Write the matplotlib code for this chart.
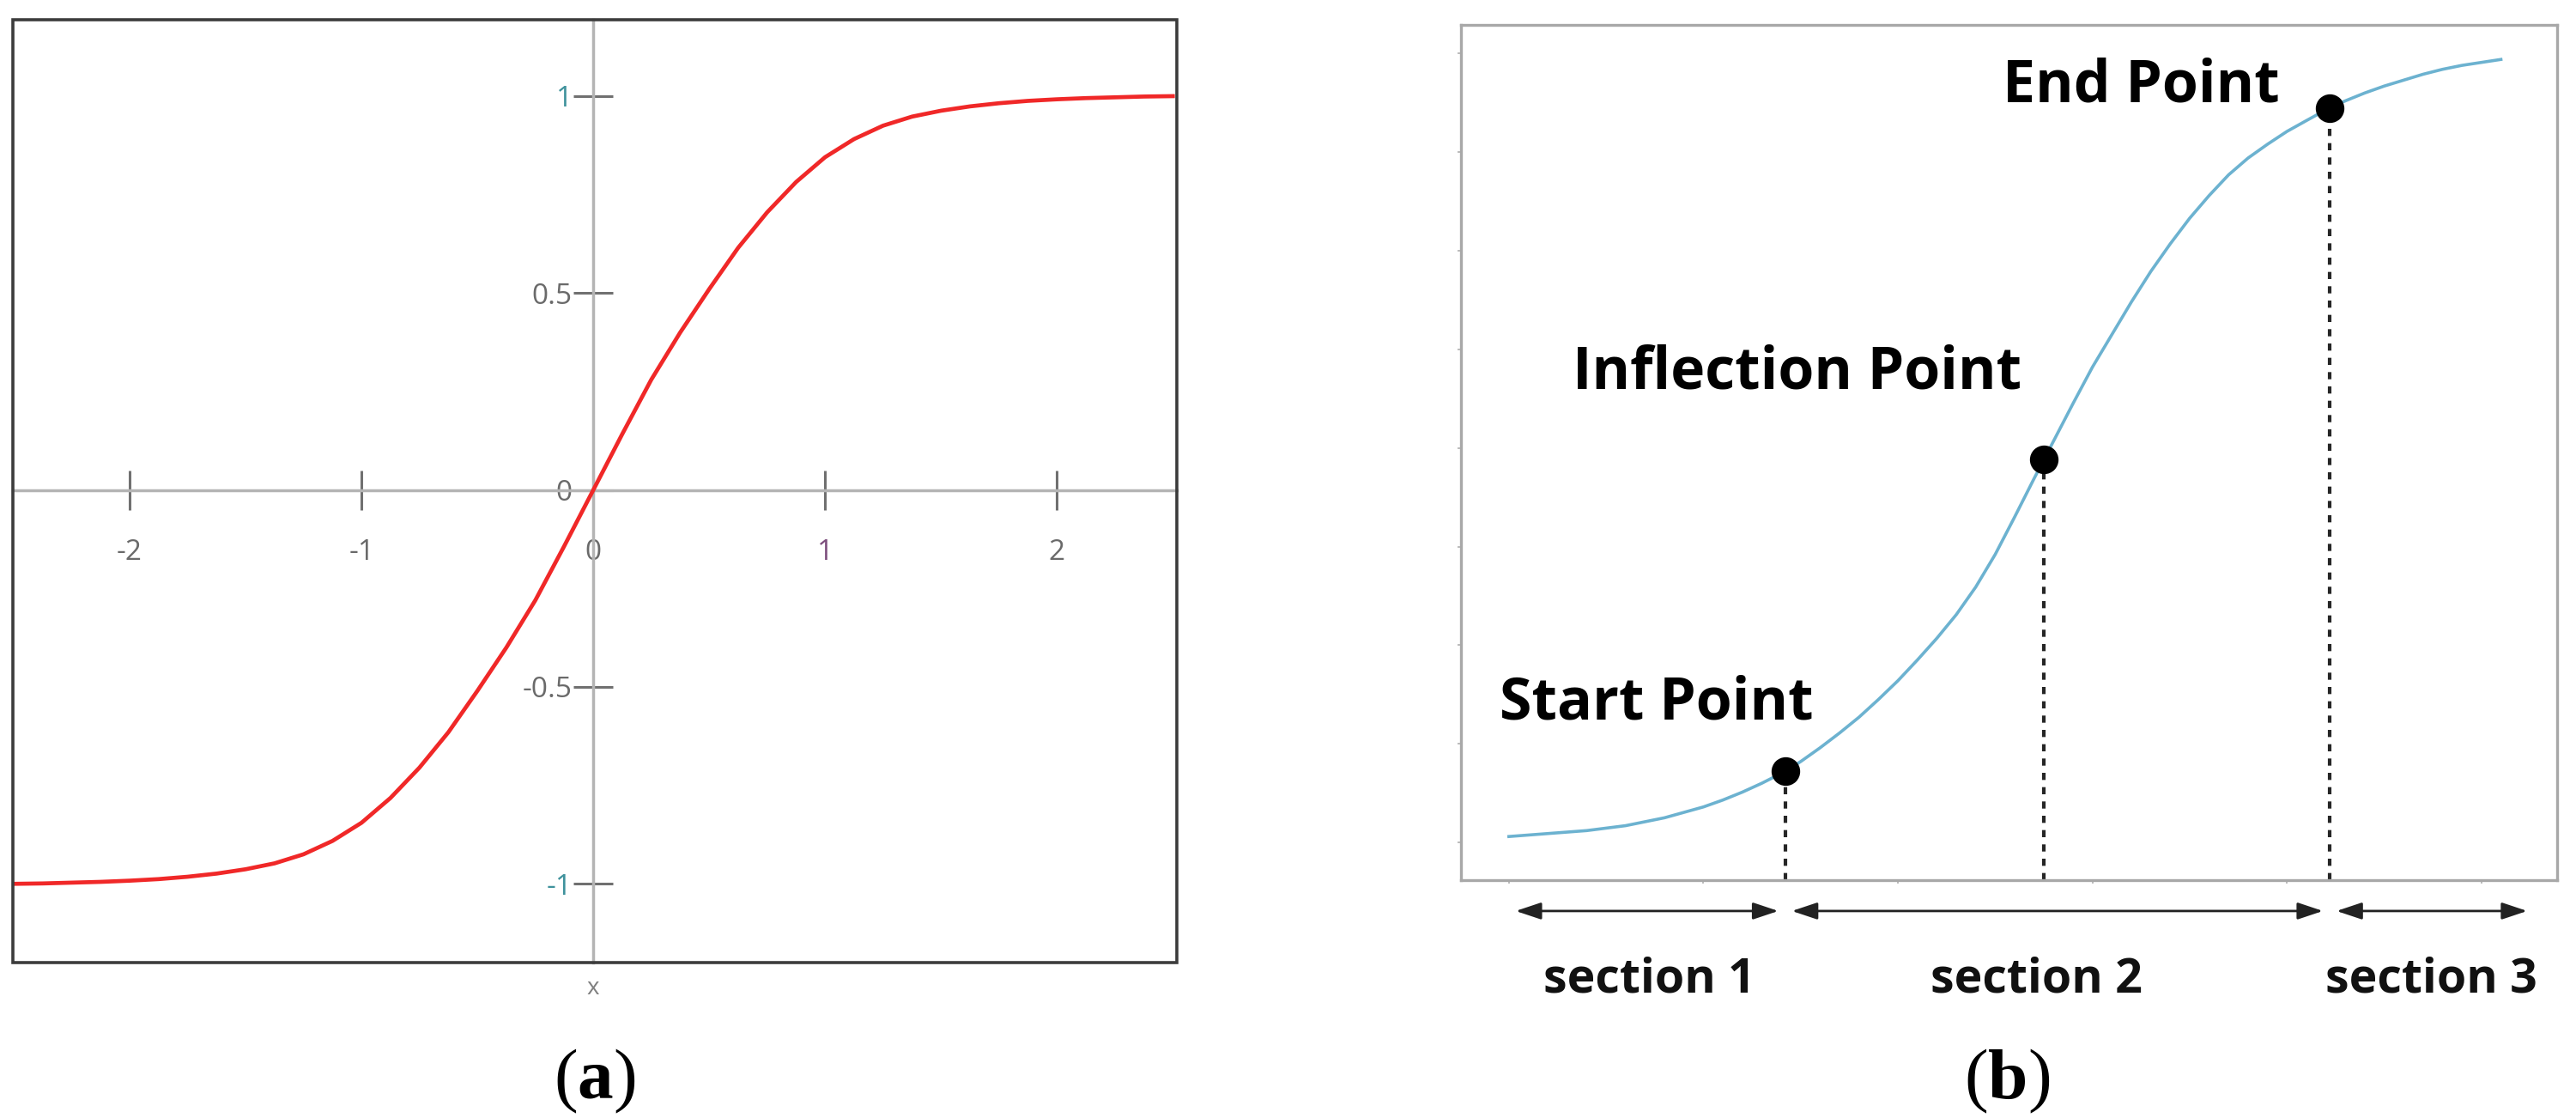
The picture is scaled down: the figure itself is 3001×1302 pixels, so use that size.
import matplotlib.pyplot as plt
from matplotlib.patches import Rectangle

plt.rcParams['axes.unicode_minus'] = False
plt.rcParams['mathtext.fontset'] = 'custom'
plt.rcParams['mathtext.rm'] = 'Liberation Serif'
plt.rcParams['mathtext.bf'] = 'Liberation Serif:bold'

# ---- panel (a): S-shaped curve through the origin
a_x = [-2.5, -2.375, -2.25, -2.125, -2.0, -1.875, -1.75, -1.625, -1.5, -1.375,
       -1.25, -1.125, -1.0, -0.875, -0.75, -0.625, -0.5, -0.375, -0.25, -0.125,
       0.0, 0.125, 0.25, 0.375, 0.5, 0.625, 0.75, 0.875, 1.0, 1.125,
       1.25, 1.375, 1.5, 1.625, 1.75, 1.875, 2.0, 2.125, 2.25, 2.375, 2.5]
a_y = [-1.0, -0.999, -0.997, -0.995, -0.992, -0.988, -0.982, -0.974, -0.963, -0.948,
       -0.925, -0.891, -0.845, -0.782, -0.705, -0.615, -0.51, -0.40, -0.28, -0.142,
       0.0, 0.142, 0.28, 0.40, 0.51, 0.615, 0.705, 0.782, 0.845, 0.891,
       0.925, 0.948, 0.963, 0.974, 0.982, 0.988, 0.992, 0.995, 0.997, 0.999, 1.0]
a_xticks = [-2, -1, 0, 1, 2]
a_xlabels = ['-2', '-1', '0', '1', '2']
a_yticks = [-1, -0.5, 0, 0.5, 1]
a_ylabels = ['-1', '-0.5', '0', '0.5', '1']

# ---- panel (b): growth curve with three marked points
b_x = [0.0, 0.2, 0.4, 0.6, 0.8, 1.0, 1.1, 1.2, 1.3, 1.42,
       1.5, 1.6, 1.7, 1.8, 1.9, 2.0, 2.1, 2.2, 2.3, 2.4,
       2.5, 2.6, 2.7, 2.75, 2.8, 2.9, 3.0, 3.1, 3.2, 3.3,
       3.4, 3.5, 3.6, 3.7, 3.8, 3.9, 4.0, 4.1, 4.22, 4.3,
       4.4, 4.5, 4.6, 4.7, 4.8, 4.9, 5.0, 5.1]
b_y = [0.06, 0.09, 0.12, 0.17, 0.25, 0.36, 0.43, 0.51, 0.60, 0.72,
       0.82, 0.96, 1.11, 1.27, 1.45, 1.64, 1.85, 2.07, 2.31, 2.59,
       2.92, 3.30, 3.69, 3.88, 4.07, 4.45, 4.82, 5.15, 5.48, 5.79,
       6.07, 6.33, 6.56, 6.77, 6.94, 7.08, 7.21, 7.32, 7.45, 7.52,
       7.60, 7.67, 7.73, 7.79, 7.84, 7.88, 7.91, 7.94]
point_names = ['Start Point', 'Inflection Point', 'End Point']
point_x = [1.42, 2.75, 4.22]
point_y = [0.72, 3.88, 7.45]
section_names = ['section 1', 'section 2', 'section 3']
section_edges = [0.0, 1.42, 4.22, 5.27]

fig = plt.figure(figsize=(30.01, 13.02), dpi=100)

# ================= (a)
axa = fig.add_axes([0.0049, 0.139, 0.452, 0.8437])
axa.plot(a_x, a_y, color='#f02828', lw=3.4, zorder=3)
axa.set_xlim(-2.505, 2.518)
axa.set_ylim(-1.2, 1.195)
for side in ['top', 'right']:
    axa.spines[side].set_visible(False)
for side in ['left', 'bottom']:
    axa.spines[side].set_position('zero')
    axa.spines[side].set_color('#b4b4b4')
    axa.spines[side].set_linewidth(2.5)
axa.add_patch(Rectangle((0, 0), 1, 1, transform=axa.transAxes, fill=False,
                        ec='#3c3c3c', lw=2.6, clip_on=False, zorder=4))
axa.set_xticks(a_xticks)
axa.set_xticklabels(a_xlabels)
axa.set_yticks(a_yticks)
axa.set_yticklabels(a_ylabels)
axa.tick_params(axis='both', direction='inout', length=33, width=2.2,
                color='#707070', labelsize=24, labelcolor='#6a6a6a')
axa.tick_params(axis='x', pad=24)
axa.tick_params(axis='y', pad=1)
for lab in axa.get_xticklabels() + axa.get_yticklabels():
    lab.set_family('Open Sans')
axa.get_xticklabels()[3].set_color('#7d4f7d')
axa.get_yticklabels()[0].set_color('#3f929c')
axa.get_yticklabels()[4].set_color('#3f929c')
axa.annotate('x', xy=(0, -0.027), xycoords=('data', 'axes fraction'),
             ha='center', va='center', fontsize=20, color='#808080',
             family='Open Sans', annotation_clip=False)

# ================= (b)
axb = fig.add_axes([0.5671, 0.2127, 0.4255, 0.765])
bottom = -0.383
axb.set_xlim(-0.247, 5.388)
axb.set_ylim(bottom, 8.29)
axb.plot(b_x, b_y, color='#6cb2d0', lw=2.6, zorder=3)
axb.vlines(point_x, bottom, point_y, colors='#262626', linestyles=(0, (2.0, 2.0)),
           lw=3.0, zorder=2)
axb.plot(point_x, point_y, 'o', ms=23, color='black', zorder=5)
for sp in axb.spines.values():
    sp.set_color('#a8a8a8')
    sp.set_linewidth(2.4)
axb.set_xticks(range(6))
axb.set_yticks(range(9))
axb.set_xticklabels([])
axb.set_yticklabels([])
axb.tick_params(direction='out', length=3, width=1.2, color='#b0b0b0')

label_pos = [(0.757, 1.246), (1.48, 4.60), (3.25, 7.51)]
for name, (tx, ty) in zip(point_names, label_pos):
    axb.text(tx, ty, name, ha='center', va='baseline', fontsize=49,
             fontweight='bold', family='Open Sans', color='black', zorder=6)

gap = 0.035
for i in range(3):
    axb.annotate('', xy=(section_edges[i + 1] - gap, -0.036),
                 xytext=(section_edges[i] + gap, -0.036),
                 xycoords=('data', 'axes fraction'),
                 textcoords=('data', 'axes fraction'),
                 arrowprops=dict(arrowstyle='<|-|>,head_length=0.9,head_width=0.3',
                                 mutation_scale=20, lw=2.0, color='#222222',
                                 shrinkA=0, shrinkB=0),
                 annotation_clip=False)
for name, sx in zip(section_names, [0.72, 2.71, 4.74]):
    axb.annotate(name, xy=(sx, -0.1305), xycoords=('data', 'axes fraction'),
                 ha='center', va='baseline', fontsize=40, fontweight='bold',
                 family='Open Sans', color='#111111', annotation_clip=False)

# panel letters
fig.text(0.2309, 0.0177, r'($\mathbf{a}$)', ha='center', va='baseline',
         fontsize=60, family='Liberation Serif')
fig.text(0.7790, 0.0177, r'($\mathbf{b}$)', ha='center', va='baseline',
         fontsize=60, family='Liberation Serif')

fig.savefig('out.png', dpi=100, facecolor='white')
